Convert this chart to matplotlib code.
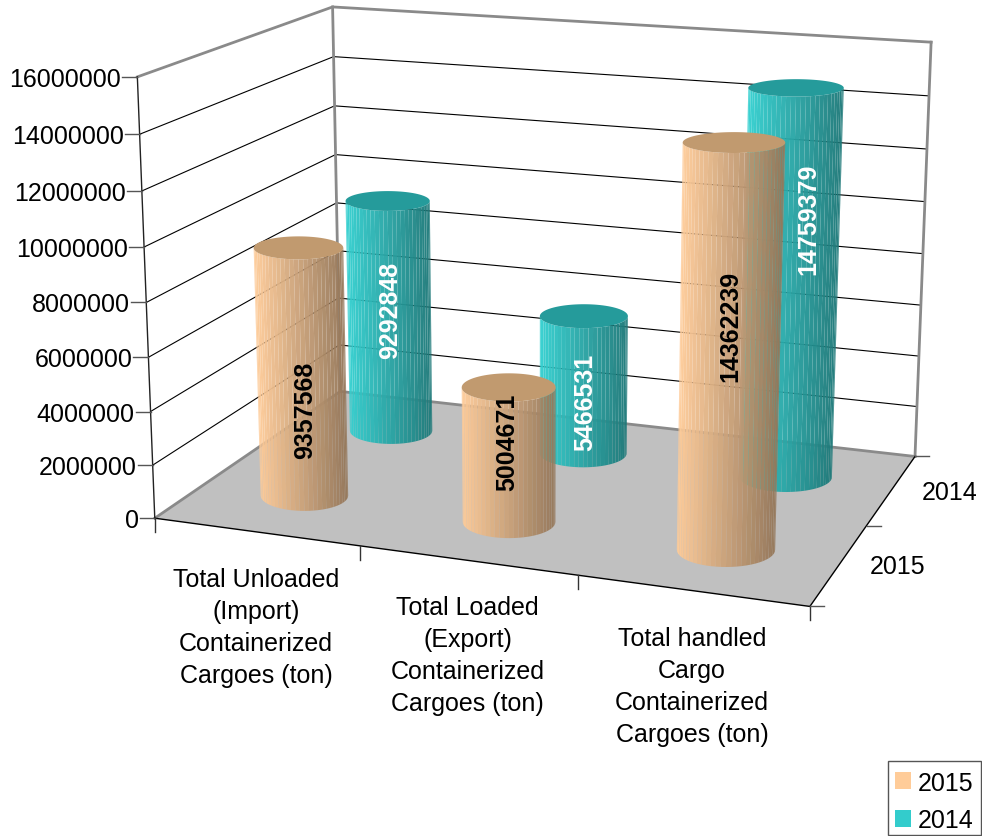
import numpy as np
import matplotlib
matplotlib.use("Agg")
import matplotlib.pyplot as plt
from matplotlib.patches import Patch, Polygon, Rectangle

plt.rcParams['font.family'] = ['Liberation Sans', 'DejaVu Sans']

categories = ["Total Unloaded\n(Import)\nContainerized\nCargoes (ton)",
              "Total Loaded\n(Export)\nContainerized\nCargoes (ton)",
              "Total handled\nCargo\nContainerized\nCargoes (ton)"]
series_names = ["2015", "2014"]
values_2015 = [9357568, 5004671, 14362239]
values_2014 = [9292848, 5466531, 14759379]
y_ticks = [0, 2000000, 4000000, 6000000, 8000000, 10000000, 12000000, 14000000, 16000000]

# where the value labels sit: fraction of cylinder height, and a sideways nudge in px
label_frac_2015 = [0.347, 0.60, 0.55]
label_frac_2014 = [0.526, 0.377, 0.664]
label_dx_2015 = [3, -2, 0]
label_dx_2014 = [1, 2, 16]

Y_MAX = 16000000
FS = 18
GREY = "#8a8a8a"

# box corners (x, depth, z in 0-1) -> pixels, used to fit the perspective
world = [(0, 0, 0), (0, 0, 1), (0, 1, 0), (0, 1, 1), (1, 1, 0), (1, 1, 1), (1, 0, 0)]
pixel = [(155, 519.5), (137, 78), (340, 392), (333, 8), (915, 458), (931, 43), (810, 607)]

rows = []
for (a, b, c), (u, v) in zip(world, pixel):
    rows.append([a, b, c, 1, 0, 0, 0, 0, -u*a, -u*b, -u*c, -u])
    rows.append([0, 0, 0, 0, a, b, c, 1, -v*a, -v*b, -v*c, -v])
P = np.linalg.svd(np.array(rows, dtype=float))[2][-1].reshape(3, 4)


def pt(x, d, z):
    # x in categories, d in series, z in data units
    q = P @ np.array([x/len(categories), d/len(series_names), z/Y_MAX, 1.0])
    return q[0]/q[2], q[1]/q[2]


def shade(color, k):
    return tuple(c*k for c in matplotlib.colors.to_rgb(color))


def ellipse_at(x, d, z):
    # the cylinder ends are drawn upright on screen, sized from the local perspective
    rx, ry = 0.22, 0.22
    uc, vc = pt(x, d, z)
    a = abs(pt(x+rx, d, z)[0] - pt(x-rx, d, z)[0])/2
    b = abs(pt(x, d+ry, z)[1] - pt(x, d-ry, z)[1])/2
    return uc, vc, a, b


def cylinder(ax, i, j, value, color, top_color, zo):
    ub, vb, ab, bb = ellipse_at(i+0.5, j+0.5, 0.0)
    ut, vt, at, bt = ellipse_at(i+0.5, j+0.5, float(value))
    th = np.linspace(np.pi, 0, 31)
    bx, by = ub + ab*np.cos(th), vb + bb*np.sin(th)
    tx, ty = ut + at*np.cos(th), vt + bt*np.sin(th)
    for k in range(len(th)-1):
        quad = [(bx[k], by[k]), (bx[k+1], by[k+1]), (tx[k+1], ty[k+1]), (tx[k], ty[k])]
        t = (1 + np.cos((th[k]+th[k+1])/2))/2
        ax.add_patch(Polygon(quad, closed=True, fc=shade(color, 1.0 - 0.42*t), ec="none",
                             alpha=0.96, zorder=zo))
    full = np.linspace(0, 2*np.pi, 90)
    ax.add_patch(Polygon(np.column_stack([ut + at*np.cos(full), vt + bt*np.sin(full)]), closed=True,
                         fc=top_color, ec="none", zorder=zo+0.1))


fig = plt.figure(figsize=(9.82, 8.37), dpi=100)
ax = fig.add_axes([0, 0, 1, 1])
ax.set_xlim(0, 982)
ax.set_ylim(837, 0)
ax.axis("off")

n_cat, n_ser = len(categories), len(series_names)

# floor
ax.add_patch(Polygon([pt(0, 0, 0), pt(n_cat, 0, 0), pt(n_cat, n_ser, 0), pt(0, n_ser, 0)],
                     closed=True, fc="#c0c0c0", ec="none", zorder=1))

# gridlines on the two walls
for z in y_ticks[1:-1]:
    a, b, c = pt(0, 0, z), pt(0, n_ser, z), pt(n_cat, n_ser, z)
    ax.plot([a[0], b[0], c[0]], [a[1], b[1], c[1]], color="black", lw=0.8, zorder=2)

# grey frame of the walls
a, b, c = pt(0, 0, Y_MAX), pt(0, n_ser, Y_MAX), pt(n_cat, n_ser, Y_MAX)
ax.plot([a[0], b[0], c[0]], [a[1], b[1], c[1]], color=GREY, lw=2, zorder=3)
a, b, c = pt(0, 0, 0), pt(0, n_ser, 0), pt(n_cat, n_ser, 0)
ax.plot([a[0], b[0], c[0]], [a[1], b[1], c[1]], color=GREY, lw=2, zorder=3)
for d, x in [(n_ser, 0), (n_ser, n_cat)]:
    a, b = pt(x, d, 0), pt(x, d, Y_MAX)
    ax.plot([a[0], b[0]], [a[1], b[1]], color=GREY, lw=2, zorder=3)

# black axis lines
a, b = pt(0, 0, 0), pt(0, 0, Y_MAX)
ax.plot([a[0], b[0]], [a[1], b[1]], color="#222222", lw=1, zorder=3)
a, b, c = pt(0, 0, 0), pt(n_cat, 0, 0), pt(n_cat, n_ser, 0)
ax.plot([a[0], b[0], c[0]], [a[1], b[1], c[1]], color="black", lw=1, zorder=3)

# y ticks and labels
for z in y_ticks:
    u, v = pt(0, 0, z)
    ax.plot([u-15, u], [v, v], color="#555555", lw=1, zorder=3)
    ax.text(u-16, v+2, str(z), ha="right", va="center", fontsize=FS, color="black")

# category ticks and labels
for i in range(n_cat+1):
    u, v = pt(i, 0, 0)
    ax.plot([u, u], [v, v+14], color="#333333", lw=1, zorder=3)
for i, name in enumerate(categories):
    u, v = pt(i+0.5, 0, 0)
    ax.text(u, v+35, name, ha="center", va="top", fontsize=FS, color="black",
            linespacing=1.42, multialignment="center")

# depth ticks and labels
for j in range(n_ser+1):
    u, v = pt(n_cat, j, 0)
    ax.plot([u, u+14], [v, v], color="#555555", lw=1, zorder=3)
for j, name in enumerate(series_names):
    u, v = pt(n_cat, j+0.5, 0)
    ax.text(u+58, v+2, name, ha="center", va="center", fontsize=FS, color="black")

# cylinders, back row first
for i, val in enumerate(values_2014):
    cylinder(ax, i, 1, val, "#33d0d0", "#259b9b", 4+i*0.2)
for i, val in enumerate(values_2015):
    cylinder(ax, i, 0, val, "#ffcc99", "#c19a6f", 6+i*0.2)


def value_label(i, j, val, frac, dx, color):
    ub, vb = pt(i+0.5, j+0.5, 0.0)
    ut, vt = pt(i+0.5, j+0.5, float(val))
    ax.text(ub + frac*(ut-ub) + dx, vb + frac*(vt-vb), str(val), rotation=90, ha="center", va="center",
            fontsize=FS, fontweight="bold", color=color, zorder=10)


for i in range(n_cat):
    value_label(i, 1, values_2014[i], label_frac_2014[i], label_dx_2014[i], "white")
    value_label(i, 0, values_2015[i], label_frac_2015[i], label_dx_2015[i], "black")

# legend box sits a bit higher than its entries, so the frame is drawn apart
ax.add_patch(Rectangle((888, 762), 93.5, 74, fc="white", ec="#555555", lw=1, zorder=11))
handles = [Patch(fc="#ffcc99", ec="none", label=series_names[0]),
           Patch(fc="#33cccc", ec="none", label=series_names[1])]
leg = ax.legend(handles=handles, loc="lower right", bbox_to_anchor=(1.0, -0.006), borderaxespad=0,
                fontsize=FS, frameon=False, handlelength=0.65, handleheight=0.65, handletextpad=0.25,
                labelspacing=0.55, borderpad=0.35)
leg.set_zorder(12)

fig.savefig("out.png", dpi=100)
